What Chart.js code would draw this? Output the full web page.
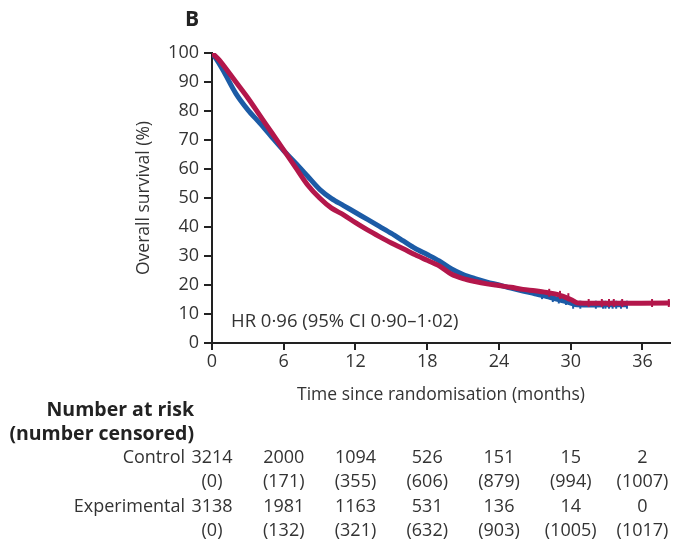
<html>
  <head>
    <script src="https://cdn.jsdelivr.net/npm/chart.js@4/dist/chart.umd.min.js"></script>
    <style>
      body,
      html {
        margin: 0;
        padding: 0;
        background: #fff;
      }
      #kmChart {
        width: 677px;
        height: 544px;
      }
    </style>
  </head>
  <body>
    <canvas id="kmChart" width="677" height="544"></canvas>

    <script>
      // survival curves (months, %)
      const controlMonths = [0, 0.6, 1, 2, 3, 4, 5, 6, 7, 8, 9, 10, 11, 12, 13, 14, 15, 16, 17, 18, 19, 20, 21, 22, 23, 24, 25, 26, 27, 28, 29, 30, 30.6, 38.3];
      const controlSurvival = [100, 97.6, 95.5, 90, 84.5, 78.5, 72.5, 66.5, 60.5, 54.5, 50, 46.5, 44.2, 41.5, 39, 36.7, 34.5, 32.5, 30.4, 28.5, 26.6, 23.8, 22.2, 21.2, 20.4, 19.8, 19.2, 18.5, 18, 17.4, 16.6, 15, 13.8, 13.8];

      const expMonths = [0, 0.5, 1, 2, 3, 4, 5, 6, 7, 8, 9, 10, 11, 12, 13, 14, 15, 16, 17, 18, 19, 20, 21, 22, 23, 24, 25, 26, 27, 28, 29, 30, 30.5, 34.7];
      const expSurvival = [100, 97, 93.5, 86, 80.4, 75.8, 71, 66.3, 62, 57.5, 53, 49.8, 47.4, 45, 42.6, 40.2, 37.8, 35.2, 32.6, 30.5, 28.3, 25.6, 23.6, 22.2, 21, 20, 18.9, 17.9, 17, 16, 15, 13.8, 13.2, 13.2];

      // censor marks in the tail
      const controlCensorMonths = [28.2, 29.1, 29.8, 31.5, 32.6, 33.2, 33.6, 34.3, 36.8, 38.2];
      const controlCensorSurvival = [17.3, 16.6, 15.8, 13.8, 13.8, 13.8, 13.8, 13.8, 13.8, 13.8];
      const expCensorMonths = [27.6, 28.5, 29.0, 29.6, 30.2, 30.8, 32.1, 32.7, 32.9, 33.2, 33.5, 33.8, 34.2, 34.7];
      const expCensorSurvival = [16.5, 15.5, 15, 14.5, 13.2, 13.2, 13.2, 13.2, 13.2, 13.2, 13.2, 13.2, 13.2, 13.2];

      // number at risk table
      const riskMonths = [0, 6, 12, 18, 24, 30, 36];
      const controlAtRisk = ["3214", "2000", "1094", "526", "151", "15", "2"];
      const controlCensored = ["(0)", "(171)", "(355)", "(606)", "(879)", "(994)", "(1007)"];
      const expAtRisk = ["3138", "1981", "1163", "531", "136", "14", "0"];
      const expCensored = ["(0)", "(132)", "(321)", "(632)", "(903)", "(1005)", "(1017)"];

      const RED = "#b3174b";
      const BLUE = "#1c5ba6";
      const FONT = "'Open Sans', 'Noto Sans', sans-serif";
      const TEXT = "#333";

      const toPoints = (xs, ys) => xs.map((x, i) => ({ x: x, y: ys[i] }));

      const extraText = {
        id: "extraText",
        afterDraw(chart) {
          const c = chart.ctx;
          const xs = chart.scales.x;
          c.save();
          c.fillStyle = "#222";
          c.font = "bold 21px " + FONT;
          c.textBaseline = "middle";
          c.textAlign = "right";
          c.fillText("B", 199, 20);

          c.textAlign = "left";
          c.fillStyle = TEXT;
          c.font = "18.5px " + FONT;
          c.fillText("HR 0·96 (95% CI 0·90–1·02)", 231, 322);

          c.font = "bold 19.5px " + FONT;
          c.fillStyle = "#222";
          c.textAlign = "right";
          c.fillText("Number at risk", 194, 410);
          c.fillText("(number censored)", 194, 434);

          c.font = "18px " + FONT;
          c.fillStyle = TEXT;
          c.fillText("Control", 185, 458);
          c.fillText("Experimental", 185, 507);

          c.textAlign = "center";
          const rows = [
            [controlAtRisk, 458],
            [controlCensored, 482],
            [expAtRisk, 507],
            [expCensored, 531],
          ];
          rows.forEach(([vals, y]) => {
            vals.forEach((v, i) => {
              c.fillText(v, xs.getPixelForValue(riskMonths[i]), y);
            });
          });
          c.restore();
        },
      };

      const ctx = document.getElementById("kmChart").getContext("2d");
      var kmChart = new Chart(ctx, {
        type: "line",
        data: {
          datasets: [
            {
              label: "Control",
              data: toPoints(controlMonths, controlSurvival),
              borderColor: RED,
              borderWidth: 5,
              pointRadius: 0,
              tension: 0.3,
            },
            {
              label: "Control censored",
              data: toPoints(controlCensorMonths, controlCensorSurvival),
              showLine: false,
              pointStyle: "line",
              rotation: 90,
              pointRadius: 4,
              borderColor: RED,
              borderWidth: 2,
            },
            {
              label: "Experimental",
              data: toPoints(expMonths, expSurvival),
              borderColor: BLUE,
              borderWidth: 5,
              pointRadius: 0,
              tension: 0.3,
            },
            {
              label: "Experimental censored",
              data: toPoints(expCensorMonths, expCensorSurvival),
              showLine: false,
              pointStyle: "line",
              rotation: 90,
              pointRadius: 4,
              borderColor: BLUE,
              borderWidth: 2,
            },
          ],
        },
        options: {
          responsive: false,
          animation: false,
          layout: {
            padding: { left: 130, top: 53, right: 7, bottom: 136 },
          },
          plugins: {
            legend: { display: false },
            tooltip: { enabled: false },
          },
          scales: {
            x: {
              type: "linear",
              min: 0,
              max: 38.3,
              afterBuildTicks: (scale) => {
                scale.ticks = riskMonths.map((v) => ({ value: v }));
              },
              afterFit: (scale) => {
                scale.height = 65;
              },
              border: { color: "#222", width: 2 },
              grid: {
                drawOnChartArea: false,
                drawTicks: true,
                tickLength: 7,
                color: "#222",
                lineWidth: 2,
              },
              ticks: {
                padding: 1,
                color: TEXT,
                font: { family: FONT, size: 18 },
              },
              title: {
                display: true,
                text: "Time since randomisation (months)",
                color: TEXT,
                font: { family: FONT, size: 17.5 },
                padding: { top: 4, bottom: 2 },
              },
            },
            y: {
              min: 0,
              max: 100,
              afterFit: (scale) => {
                scale.width = 82;
              },
              border: { color: "#222", width: 2 },
              grid: {
                drawOnChartArea: false,
                drawTicks: true,
                tickLength: 8,
                color: "#222",
                lineWidth: 2,
              },
              ticks: {
                stepSize: 10,
                padding: 5,
                color: TEXT,
                font: { family: FONT, size: 18 },
              },
              title: {
                display: true,
                text: "Overall survival (%)",
                color: TEXT,
                font: { family: FONT, size: 17.5 },
                padding: 4,
              },
            },
          },
        },
        plugins: [extraText],
      });
    </script>
  </body>
</html>
